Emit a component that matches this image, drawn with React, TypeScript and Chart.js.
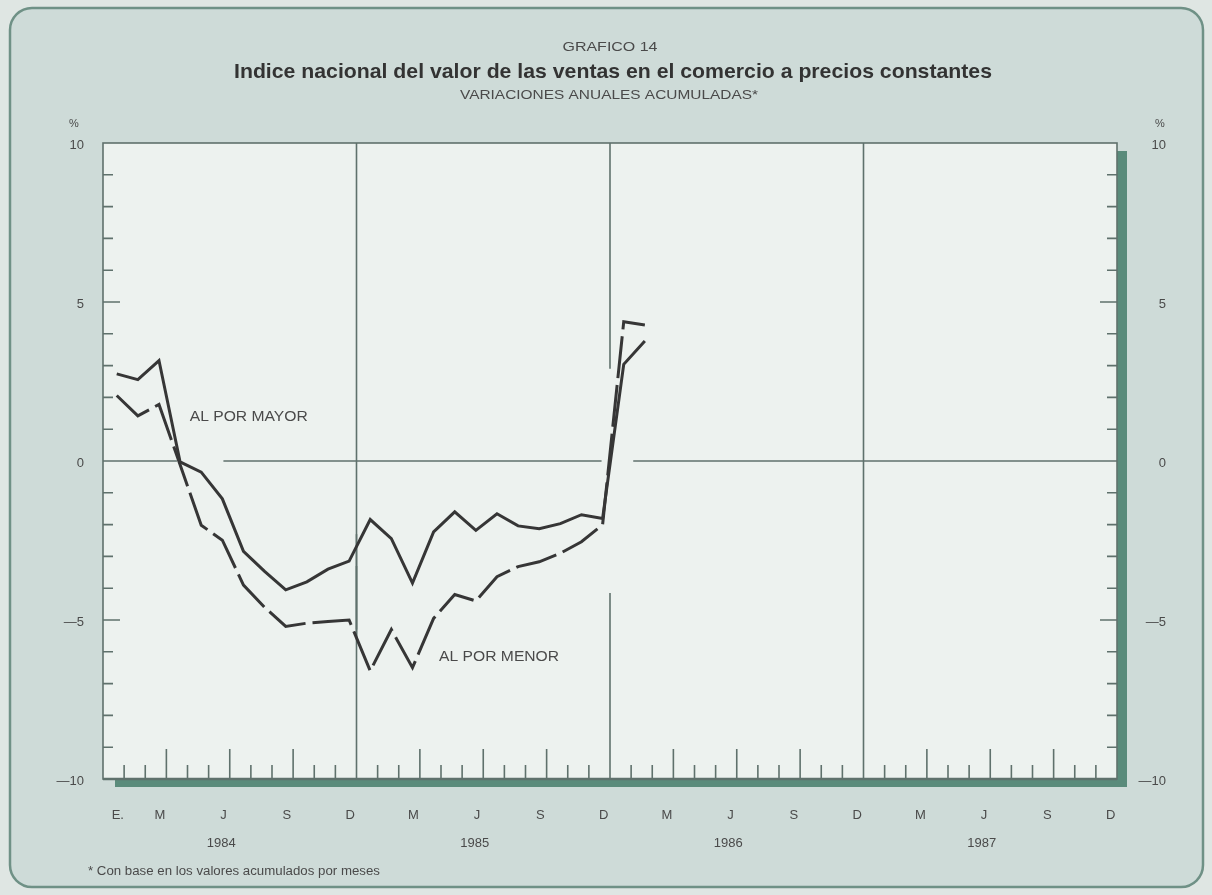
import React, { useEffect, useRef } from "react";
import { Chart, registerables } from "chart.js";

Chart.register(...registerables);

// ---- data (monthly, Jan 1984 .. Feb 1986) ----
const alPorMayor = [
  2.74, 2.56, 3.16, -0.03, -0.35, -1.19, -2.84, -3.47, -4.05, -3.8, -3.4, -3.15,
  -1.84, -2.44, -3.84, -2.23, -1.6, -2.18, -1.66, -2.04, -2.13, -1.97, -1.69, -1.81,
  3.04, 3.77,
];
const alPorMenor = [
  2.06, 1.42, 1.78, -0.12, -2.02, -2.49, -3.9, -4.6, -5.2, -5.1, -5.05, -5.0,
  -6.6, -5.3, -6.5, -4.95, -4.2, -4.4, -3.64, -3.32, -3.17, -2.9, -2.54, -2.0,
  4.38, 4.28,
];
const years = ["1984", "1985", "1986", "1987"];
const monthPattern = ["", "", "M", "", "", "J", "", "", "S", "", "", "D"];
const firstMonthLabel = "E.";
const yTicks = [-10, -5, 0, 5, 10];
const yTickText = ["—10", "—5", "0", "5", "10"];
const seriesLabels = ["AL POR MAYOR", "AL POR MENOR"];

const TITLE_SMALL = "GRAFICO 14";
const TITLE = "Indice nacional del valor de las ventas en el comercio a precios constantes";
const SUBTITLE = "VARIACIONES ANUALES ACUMULADAS*";
const FOOTNOTE = "* Con base en los valores acumulados por meses";

const POINT_OFFSET = 0.65;
const FONT = '"Liberation Sans", Arial, Helvetica, sans-serif';

const C_BG_OUT = "#dfe6e3";
const C_CARD = "#cedbd8";
const C_CARD_EDGE = "#6f9186";
const C_PLOT = "#edf2ef";
const C_SHADOW = "#5a8b7b";
const C_GRID = "#5f716c";
const C_LINE = "#363636";
const C_TEXT = "#4a4a4a";

function fitText(ctx: CanvasRenderingContext2D, text: string, x: number, y: number, font: string, width: number, align: "center" | "left") {
  ctx.save();
  ctx.font = font;
  const w = ctx.measureText(text).width;
  const sx = width / w;
  ctx.translate(x, y);
  ctx.scale(sx, 1);
  ctx.textAlign = align;
  ctx.textBaseline = "middle";
  ctx.fillText(text, 0, 0);
  ctx.restore();
}

const decorPlugin = {
  id: "decor",
  beforeDraw(chart: any) {
    const ctx: CanvasRenderingContext2D = chart.ctx;
    const { left, right, top, bottom } = chart.chartArea;
    const xs = chart.scales.x;
    const ys = chart.scales.y;
    const W = chart.width;
    const H = chart.height;
    ctx.save();
    // page + card
    ctx.fillStyle = C_BG_OUT;
    ctx.fillRect(0, 0, W, H);
    ctx.beginPath();
    (ctx as any).roundRect(10, 8, 1193, 879, 22);
    ctx.fillStyle = C_CARD;
    ctx.fill();
    ctx.lineWidth = 2.5;
    ctx.strokeStyle = C_CARD_EDGE;
    ctx.stroke();

    // plot shadow + fill
    ctx.fillStyle = C_SHADOW;
    ctx.fillRect(left + 12, top + 8, right - left - 2, bottom - top);
    ctx.fillStyle = C_PLOT;
    ctx.fillRect(left, top, right - left, bottom - top);

    ctx.strokeStyle = C_GRID;
    ctx.lineWidth = 1.6;
    // zero line with breaks (month units)
    const zeroGaps = [[3.5, 5.7], [23.6, 25.1]];
    const y0 = ys.getPixelForValue(0);
    let from = 0;
    const segs: number[][] = [];
    zeroGaps.forEach((g) => { segs.push([from, g[0]]); from = g[1]; });
    segs.push([from, 48]);
    segs.forEach((s) => {
      ctx.beginPath();
      ctx.moveTo(xs.getPixelForValue(s[0]), y0);
      ctx.lineTo(xs.getPixelForValue(s[1]), y0);
      ctx.stroke();
    });
    // year lines with breaks (value units)
    const yearGaps: Record<number, number[][]> = {
      12: [[-3.3, -2.3], [-5.55, -5.3]],
      24: [[-4.15, 2.9]],
      36: [],
    };
    [12, 24, 36].forEach((m) => {
      const x = xs.getPixelForValue(m);
      let yf = -10;
      const parts: number[][] = [];
      yearGaps[m].forEach((g) => { parts.push([yf, g[0]]); yf = g[1]; });
      parts.push([yf, 10]);
      parts.forEach((p) => {
        ctx.beginPath();
        ctx.moveTo(x, ys.getPixelForValue(p[0]));
        ctx.lineTo(x, ys.getPixelForValue(p[1]));
        ctx.stroke();
      });
    });
    // month ticks
    for (let k = 1; k < 48; k++) {
      if (k % 12 === 0) continue;
      const x = xs.getPixelForValue(k);
      const len = k % 3 === 0 ? 30 : 14;
      ctx.beginPath();
      ctx.moveTo(x, bottom);
      ctx.lineTo(x, bottom - len);
      ctx.stroke();
    }
    // y ticks both sides
    for (let v = -9; v <= 9; v++) {
      if (v === 0) continue;
      const y = ys.getPixelForValue(v);
      const len = Math.abs(v) === 5 ? 17 : 10;
      ctx.beginPath();
      ctx.moveTo(left, y);
      ctx.lineTo(left + len, y);
      ctx.moveTo(right, y);
      ctx.lineTo(right - len, y);
      ctx.stroke();
    }
    // border
    ctx.lineWidth = 1.6;
    ctx.strokeRect(left, top, right - left, bottom - top);
    ctx.lineWidth = 2.5;
    ctx.beginPath();
    ctx.moveTo(left, bottom);
    ctx.lineTo(right, bottom);
    ctx.stroke();

    // texts
    ctx.fillStyle = C_TEXT;
    fitText(ctx, TITLE_SMALL, 610, 47, `13px ${FONT}`, 95, "center");
    ctx.fillStyle = "#333333";
    fitText(ctx, TITLE, 613, 72, `bold 21px ${FONT}`, 758, "center");
    ctx.fillStyle = C_TEXT;
    fitText(ctx, SUBTITLE, 609, 95, `13px ${FONT}`, 298, "center");
    fitText(ctx, FOOTNOTE, 88, 872, `12px ${FONT}`, 292, "left");

    ctx.font = `13px ${FONT}`;
    ctx.textBaseline = "middle";
    yTicks.forEach((v, i) => {
      const y = ys.getPixelForValue(v) + 2;
      ctx.textAlign = "right";
      ctx.fillText(yTickText[i], 84, y);
      ctx.fillText(yTickText[i], 1166, y);
    });
    ctx.font = `11px ${FONT}`;
    ctx.textAlign = "center";
    ctx.fillText("%", 74, ys.getPixelForValue(10) - 19);
    ctx.fillText("%", 1160, ys.getPixelForValue(10) - 19);

    ctx.font = `13px ${FONT}`;
    for (let m = 0; m < 48; m++) {
      const lab = m === 0 ? firstMonthLabel : monthPattern[m % 12];
      if (!lab) continue;
      ctx.fillText(lab, xs.getPixelForValue(m + 0.7), bottom + 36);
    }
    years.forEach((yr, i) => {
      ctx.fillText(yr, xs.getPixelForValue(i * 12 + 5.6), bottom + 64);
    });
    ctx.restore();
  },
  afterDatasetsDraw(chart: any) {
    const ctx: CanvasRenderingContext2D = chart.ctx;
    const xs = chart.scales.x;
    const ys = chart.scales.y;
    ctx.save();
    ctx.fillStyle = C_TEXT;
    ctx.textAlign = "center";
    ctx.textBaseline = "middle";
    fitText(ctx, seriesLabels[0], xs.getPixelForValue(6.9), ys.getPixelForValue(1.4), `15px ${FONT}`, 118, "center");
    fitText(ctx, seriesLabels[1], xs.getPixelForValue(18.75), ys.getPixelForValue(-6.15), `15px ${FONT}`, 120, "center");
    ctx.restore();
  },
};

export default function App() {
  const ref = useRef<HTMLCanvasElement | null>(null);
  useEffect(() => {
    document.body.style.margin = "0";
    const canvas = ref.current;
    if (!canvas) return;
    const chart = new Chart(canvas, {
      type: "line",
      data: {
        datasets: [
          {
            label: seriesLabels[0],
            data: alPorMayor.map((v, i) => ({ x: i + POINT_OFFSET, y: v })),
            borderColor: C_LINE,
            borderWidth: 3,
            pointRadius: 0,
            tension: 0,
            fill: false,
          },
          {
            label: seriesLabels[1],
            data: alPorMenor.map((v, i) => ({ x: i + POINT_OFFSET, y: v })),
            borderColor: C_LINE,
            borderWidth: 3,
            borderDash: [42, 7],
            pointRadius: 0,
            tension: 0,
            fill: false,
          },
        ],
      },
      options: {
        responsive: false,
        animation: false,
        events: [],
        layout: { padding: { left: 103, top: 143, right: 95, bottom: 116 } },
        scales: {
          x: { type: "linear", min: 0, max: 48, display: false },
          y: { type: "linear", min: -10, max: 10, display: false },
        },
        plugins: { legend: { display: false }, tooltip: { enabled: false }, title: { display: false } },
      },
      plugins: [decorPlugin],
    } as any);
    return () => chart.destroy();
  }, []);
  return (
    <div style={{ width: 1212, height: 895 }}>
      <canvas ref={ref} width={1212} height={895} style={{ display: "block" }} />
    </div>
  );
}
